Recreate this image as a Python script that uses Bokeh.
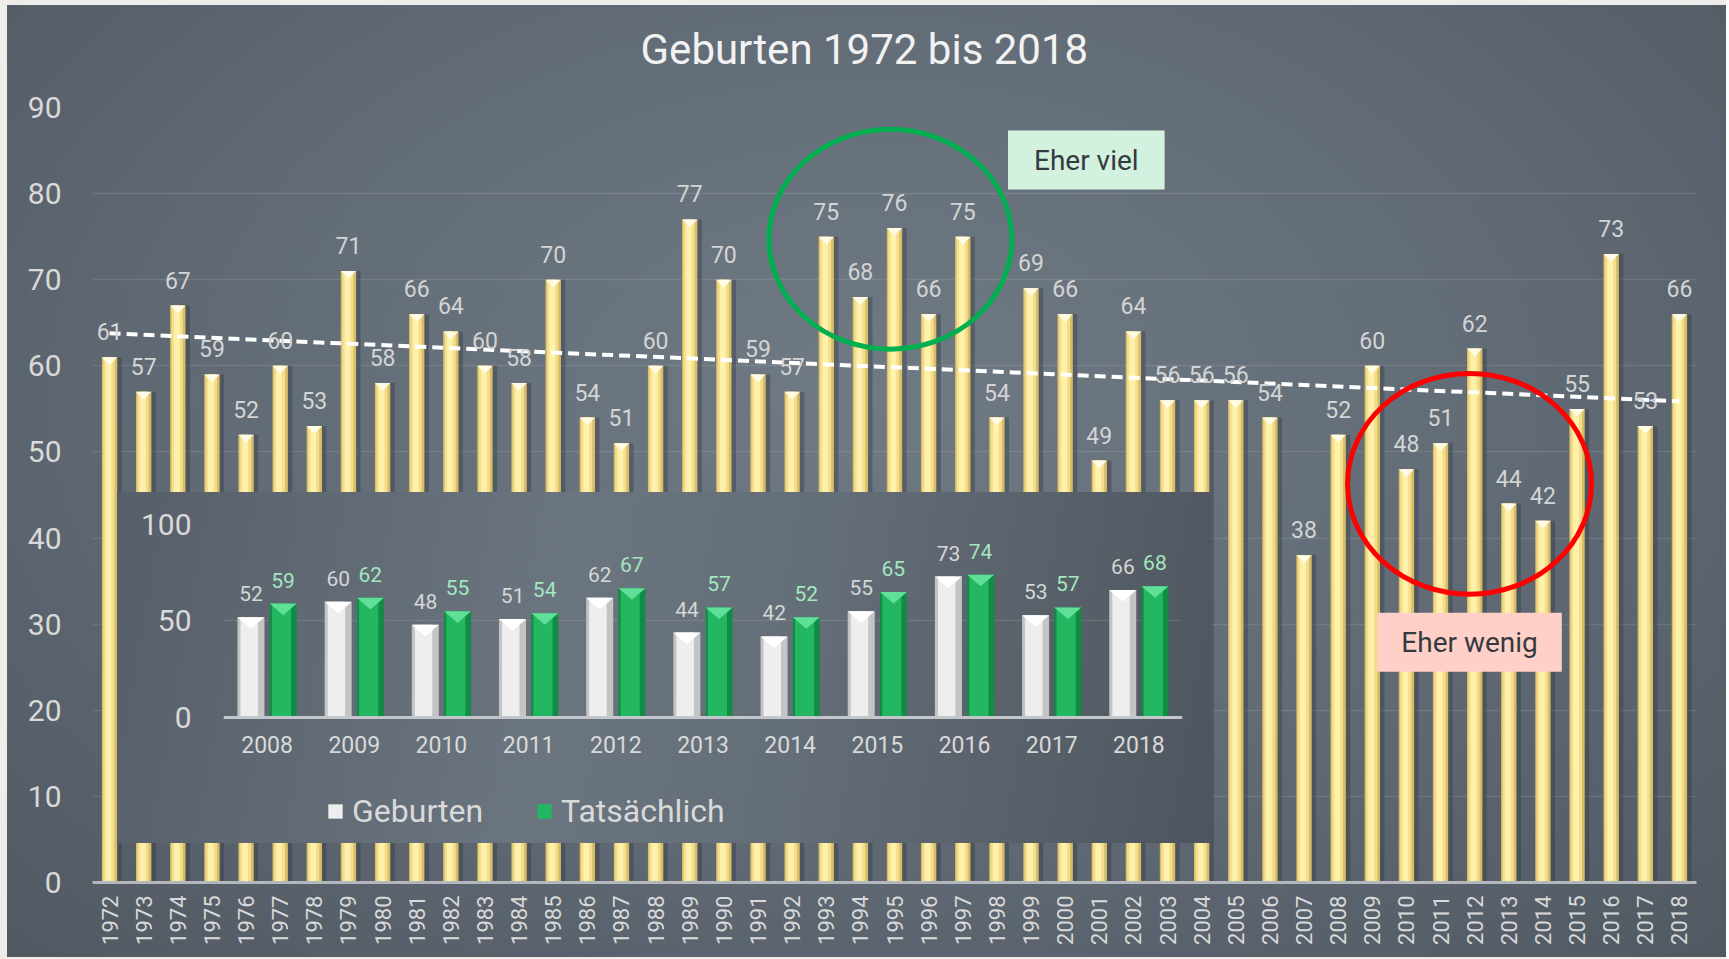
import numpy as np
from bokeh.plotting import figure
from bokeh.models import (ColumnDataSource, FactorRange, Range1d, FixedTicker,
                          LabelSet, Label, Legend, LegendItem)
from bokeh.transform import dodge
from bokeh.layouts import column
from bokeh.embed import file_html
from bokeh.resources import INLINE
from bokeh.core.properties import value

# ---------------- data ----------------
title_text = "Geburten 1972 bis 2018"
years = ["1972", "1973", "1974", "1975", "1976", "1977", "1978", "1979", "1980",
         "1981", "1982", "1983", "1984", "1985", "1986", "1987", "1988", "1989",
         "1990", "1991", "1992", "1993", "1994", "1995", "1996", "1997", "1998",
         "1999", "2000", "2001", "2002", "2003", "2004", "2005", "2006", "2007",
         "2008", "2009", "2010", "2011", "2012", "2013", "2014", "2015", "2016",
         "2017", "2018"]
births = [61, 57, 67, 59, 52, 60, 53, 71, 58, 66, 64, 60, 58, 70, 54, 51, 60, 77,
          70, 59, 57, 75, 68, 76, 66, 75, 54, 69, 66, 49, 64, 56, 56, 56, 54, 38,
          52, 60, 48, 51, 62, 44, 42, 55, 73, 53, 66]
y_ticks = [0, 10, 20, 30, 40, 50, 60, 70, 80, 90]

inset_years = ["2008", "2009", "2010", "2011", "2012", "2013", "2014", "2015",
               "2016", "2017", "2018"]
inset_geburten = [52, 60, 48, 51, 62, 44, 42, 55, 73, 53, 66]
inset_tatsaechlich = [59, 62, 55, 54, 67, 57, 52, 65, 74, 57, 68]
inset_y_ticks = [0, 50, 100]
legend_labels = ["Geburten", "Tatsächlich"]

note_high = "Eher viel"
note_low = "Eher wenig"

# ---------------- style ----------------
FONT = "Roboto"
TXT = "#d9d9d9"
PAGE = "#eeede9"


def style_axes(fig, xsize, xstand, ysize, ystand, rotate=False):
    for ax in (fig.xaxis[0], fig.yaxis[0]):
        ax.major_tick_line_color = None
        ax.minor_tick_line_color = None
        ax.major_tick_out = 0
        ax.major_tick_in = 0
        ax.minor_tick_out = 0
        ax.major_label_text_font = FONT
        ax.major_label_text_color = TXT
    fig.yaxis.axis_line_color = None
    fig.yaxis.major_label_text_font_size = ysize
    fig.yaxis.major_label_standoff = ystand
    fig.xaxis.axis_line_width = 3
    fig.xaxis.major_label_text_font_size = xsize
    fig.xaxis.major_label_standoff = xstand
    if rotate:
        fig.xaxis.major_label_orientation = np.pi / 2
    fig.xgrid.grid_line_color = None
    fig.ygrid.grid_line_color = "#ffffff"
    fig.ygrid.grid_line_alpha = 0.1
    fig.ygrid.grid_line_width = 1.5
    fig.background_fill_color = None
    fig.border_fill_color = None
    fig.outline_line_color = None


# ---------------- main chart ----------------
p = figure(frame_width=1604, frame_height=775,
           x_range=FactorRange(factors=years), y_range=Range1d(0, 90),
           output_backend="svg", toolbar_location=None, frame_align=False,
           min_border_left=85, min_border_right=30, min_border_top=120,
           min_border_bottom=75)
p.margin = (-13, 0, 0, 7)
p.styles = {"background": (f"linear-gradient({PAGE} 0px, {PAGE} 18px, transparent 18px), "
                           "radial-gradient(ellipse 75% 85% at 50% 42%, #6f7a85 0%, "
                           "#636d78 45%, #4f5760 100%)")}
style_axes(p, "22px", 13, "30px", 31, rotate=True)
p.xaxis.axis_line_color = "#b3b8bd"
p.yaxis.ticker = FixedTicker(ticks=y_ticks)

p.title.text = title_text
p.title.align = "left"
p.title.offset = 548
p.title.text_font = FONT
p.title.text_font_size = "42px"
p.title.text_font_style = "normal"
p.title.text_color = "#f2f2f2"
p.title.standoff = 68

src = ColumnDataSource(dict(year=years, births=births,
                            label=[str(v) for v in births]))

# bar shadow + layered bar for a cylindrical look
p.vbar(x=dodge("year", 0.13, range=p.x_range), top="births", width=0.45,
       fill_color="#2c3238", fill_alpha=0.35, line_color=None, source=src)
p.vbar(x="year", top="births", width=0.45, fill_color="#d6bd66",
       line_color=None, source=src)
p.vbar(x=dodge("year", -0.02, range=p.x_range), top="births", width=0.33,
       fill_color="#f4de8e", line_color=None, source=src)
p.vbar(x=dodge("year", -0.03, range=p.x_range), top="births", width=0.17,
       fill_color="#fff1aa", line_color=None, source=src)
tri_x = [[i + 0.5 - 0.225, i + 0.5 + 0.225, i + 0.5] for i in range(len(years))]
tri_y = [[v, v, v - 0.9] for v in births]
p.patches(tri_x, tri_y, fill_color="#fffbe6", line_color=None)

p.add_layout(LabelSet(x="year", y="births", text="label", source=src,
                      text_align="center", text_baseline="alphabetic",
                      y_offset=17, text_font=value(FONT),
                      text_font_size="23px", text_color="#d4d4d4"))

# linear trend line (least squares on the data)
idx = np.arange(len(births))
slope, intercept = np.polyfit(idx, births, 1)
p.line(x=[0.5, len(years) - 0.5],
       y=[intercept, intercept + slope * (len(years) - 1)],
       line_color="white", line_width=4, line_dash="11 6")

# highlight circles
x95 = years.index("1995") + 0.5 - 0.12
x12 = years.index("2012") + 0.5 - 0.15
p.ellipse(x=[x95], y=[74.7], width=243, height=220, width_units="screen",
          height_units="screen", fill_color=None, line_color="#00b050",
          line_width=5)
p.ellipse(x=[x12], y=[46.3], width=244, height=221, width_units="screen",
          height_units="screen", fill_color=None, line_color="#ff0000",
          line_width=5)

# note boxes
p.add_layout(Label(x=years.index("2001") + 0.5 - 0.38, y=83.9, text=note_high,
                   text_align="center", text_baseline="middle",
                   text_font=FONT, text_font_size="28px", text_color="#353a40",
                   background_fill_color="#d3f1df", padding=(26, 13)))
p.add_layout(Label(x=years.index("2012") + 0.5 - 0.15, y=27.9, text=note_low,
                   text_align="center", text_baseline="middle",
                   text_font=FONT, text_font_size="28px", text_color="#353a40",
                   background_fill_color="#ffd0c7", padding=(24, 13)))

# ---------------- inset chart ----------------
q = figure(frame_width=959, frame_height=319,
           x_range=FactorRange(factors=inset_years), y_range=Range1d(-65.3, 100),
           output_backend="svg", toolbar_location=None, frame_align=False,
           min_border_left=106, min_border_right=29, min_border_top=32,
           min_border_bottom=0)
q.margin = (-465, 0, 116, 117)
q.styles = {"background": "linear-gradient(100deg, #565f69 0%, #6b7580 40%, #646e78 62%, #4e555e 100%)"}
style_axes(q, "23px", 19, "30px", 32)
q.xaxis.axis_line_color = "#c3c7cb"
q.xaxis.fixed_location = 0
q.yaxis.ticker = FixedTicker(ticks=inset_y_ticks)

src2 = ColumnDataSource(dict(year=inset_years, geb=inset_geburten,
                             tat=inset_tatsaechlich,
                             geb_txt=[str(v) for v in inset_geburten],
                             tat_txt=[str(v) for v in inset_tatsaechlich]))
OFF = 0.185
q.vbar(x=dodge("year", -OFF, range=q.x_range), top="geb", width=0.31,
       fill_color="#c4c4c4", line_color=None, source=src2)
r_geb = q.vbar(x=dodge("year", -OFF - 0.02, range=q.x_range), top="geb",
               width=0.2, fill_color="#eeeeee", line_color=None, source=src2)
q.vbar(x=dodge("year", OFF, range=q.x_range), top="tat", width=0.31,
       fill_color="#128b44", line_color=None, source=src2)
r_tat = q.vbar(x=dodge("year", OFF - 0.02, range=q.x_range), top="tat",
               width=0.22, fill_color="#22b760", line_color=None, source=src2)
wx = [[i + 0.5 - OFF - 0.155, i + 0.5 - OFF + 0.155, i + 0.5 - OFF]
      for i in range(len(inset_years))]
wy = [[v, v, v - 6] for v in inset_geburten]
q.patches(wx, wy, fill_color="#ffffff", line_color=None)
gx = [[i + 0.5 + OFF - 0.155, i + 0.5 + OFF + 0.155, i + 0.5 + OFF]
      for i in range(len(inset_years))]
gy = [[v, v, v - 6] for v in inset_tatsaechlich]
q.patches(gx, gy, fill_color="#5fdf98", line_color=None)

q.add_layout(LabelSet(x="year", y="geb", text="geb_txt", source=src2,
                      x_offset=-16, y_offset=16, text_align="center",
                      text_baseline="alphabetic", text_font=value(FONT),
                      text_font_size="21px", text_color="#d6d6d6"))
q.add_layout(LabelSet(x="year", y="tat", text="tat_txt", source=src2,
                      x_offset=16, y_offset=16, text_align="center",
                      text_baseline="alphabetic", text_font=value(FONT),
                      text_font_size="21px", text_color="#a3e7bf"))

legend = Legend(items=[LegendItem(label=legend_labels[0], renderers=[r_geb]),
                       LegendItem(label=legend_labels[1], renderers=[r_tat])],
                orientation="horizontal", location=(103, 13),
                label_text_font=FONT, label_text_font_size="32px",
                label_text_color=TXT, glyph_width=18, glyph_height=18,
                label_standoff=8, spacing=52, padding=0, margin=0,
                border_line_color=None, background_fill_alpha=0)
q.add_layout(legend)

layout = column(p, q, styles={"background-color": PAGE})
open("out.html", "w").write(file_html(layout, INLINE))
